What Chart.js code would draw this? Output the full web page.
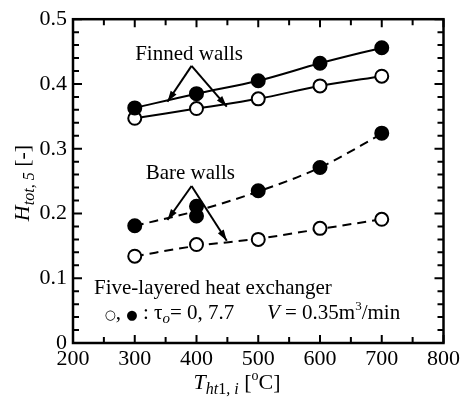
<!DOCTYPE html>
<html><head><meta charset="utf-8">
<script src="https://cdn.jsdelivr.net/npm/chart.js@4/dist/chart.umd.min.js"></script>
<style>html,body{margin:0;padding:0;background:#fff}#wrap{width:463px;height:402px}</style>
</head><body><div id="wrap"><canvas id="c" width="463" height="402"></canvas></div>
<script>
// ---- data ----
const temps = [300, 400, 500, 600, 700];
const finnedFilled = [0.363, 0.385, 0.405, 0.432, 0.456];
const finnedOpen = [0.347, 0.362, 0.377, 0.397, 0.412];
const bareFilledX = [300, 400, 400, 500, 600, 700];
const bareFilled = [0.181, 0.211, 0.196, 0.235, 0.271, 0.324];
const bareFilledFit = [0.181, 0.204, 0.234, 0.271, 0.323];
const bareOpen = [0.134, 0.152, 0.160, 0.177, 0.191];
const bareOpenFit = [0.134, 0.150, 0.161, 0.176, 0.191];
const xTickLabels = [200, 300, 400, 500, 600, 700, 800];
const yTickLabels = [0, 0.1, 0.2, 0.3, 0.4, 0.5];

// annotation anchors (data space)
const finnedArrow = {apex: [392, 0.428], tips: [[353, 0.3725], [449, 0.365]]};
const bareArrow = {apex: [392, 0.2425], tips: [[353, 0.190], [449, 0.158]]};

const SERIF = '"Liberation Serif", "Times New Roman", serif';
const pts = (xs, ys) => xs.map((x, i) => ({x, y: ys[i]}));

function font(style, size, fam) { return (style === 'i' ? 'italic ' : '') + size + 'px ' + (fam || SERIF); }
function runsWidth(ctx, runs) {
  let w = 0;
  for (const r of runs) { ctx.font = font(r.f, r.s, r.fam); w += ctx.measureText(r.t).width + (r.gap || 0); }
  return w;
}
function drawRuns(ctx, x, y, runs, align) {
  let cx = align === 'center' ? x - runsWidth(ctx, runs) / 2 : x;
  ctx.textBaseline = 'alphabetic'; ctx.textAlign = 'left'; ctx.fillStyle = '#000';
  for (const r of runs) {
    ctx.font = font(r.f, r.s, r.fam);
    ctx.fillText(r.t, cx, y + (r.dy || 0));
    cx += ctx.measureText(r.t).width + (r.gap || 0);
  }
}
function arrow(ctx, x0, y0, x1, y1) {
  ctx.beginPath(); ctx.moveTo(x0, y0); ctx.lineTo(x1, y1); ctx.stroke();
  const a = Math.atan2(y1 - y0, x1 - x0), L = 11, W = 3.5;
  ctx.beginPath();
  ctx.moveTo(x1, y1);
  ctx.lineTo(x1 - L * Math.cos(a) + W * Math.sin(a), y1 - L * Math.sin(a) - W * Math.cos(a));
  ctx.lineTo(x1 - L * Math.cos(a) - W * Math.sin(a), y1 - L * Math.sin(a) + W * Math.cos(a));
  ctx.closePath(); ctx.fill();
}

const decor = {
  id: 'decor',
  afterDatasetsDraw(chart) {
    const {ctx, chartArea: ca, scales: {x, y}} = chart;
    ctx.save();
    ctx.strokeStyle = '#000'; ctx.fillStyle = '#000';
    // frame
    ctx.lineWidth = 2.5;
    ctx.strokeRect(ca.left, ca.top, ca.right - ca.left, ca.bottom - ca.top);
    // inward ticks
    ctx.lineWidth = 2;
    ctx.beginPath();
    for (let v = 200; v <= 800; v += 50) {
      const px = x.getPixelForValue(v), L = (v % 100 === 0) ? 8 : 6;
      ctx.moveTo(px, ca.bottom); ctx.lineTo(px, ca.bottom - L);
      ctx.moveTo(px, ca.top); ctx.lineTo(px, ca.top + L);
    }
    for (let i = 0; i <= 25; i++) {
      const v = i * 0.02, py = y.getPixelForValue(v), L = (i % 5 === 0) ? 9 : 6;
      ctx.moveTo(ca.left, py); ctx.lineTo(ca.left + L, py);
      ctx.moveTo(ca.right, py); ctx.lineTo(ca.right - L, py);
    }
    ctx.stroke();
    // arrows
    ctx.lineWidth = 2;
    for (const A of [finnedArrow, bareArrow]) {
      const ax = x.getPixelForValue(A.apex[0]), ay = y.getPixelForValue(A.apex[1]);
      for (const t of A.tips) arrow(ctx, ax, ay, x.getPixelForValue(t[0]), y.getPixelForValue(t[1]));
    }
    // labels
    drawRuns(ctx, x.getPixelForValue(388), y.getPixelForValue(0.437), [{t: 'Finned walls', f: 'n', s: 21}], 'center');
    drawRuns(ctx, x.getPixelForValue(390), y.getPixelForValue(0.253), [{t: 'Bare walls', f: 'n', s: 21}], 'center');
    drawRuns(ctx, x.getPixelForValue(234), y.getPixelForValue(0.075), [{t: 'Five-layered heat exchanger', f: 'n', s: 21}], 'left');
    drawRuns(ctx, x.getPixelForValue(251), y.getPixelForValue(0.037), [
      {t: '○', f: 'n', s: 13, fam: '"DejaVu Sans"'},
      {t: ', ', f: 'n', s: 21},
      {t: '●', f: 'n', s: 13, fam: '"DejaVu Sans"'},
      {t: ' : ', f: 'n', s: 21},
      {t: 'τ', f: 'n', s: 21},
      {t: 'o', f: 'i', s: 15, dy: 4},
      {t: '= 0, 7.7', f: 'n', s: 21}
    ], 'left');
    drawRuns(ctx, x.getPixelForValue(514), y.getPixelForValue(0.037), [
      {t: 'V', f: 'i', s: 21},
      {t: ' = 0.35m', f: 'n', s: 21},
      {t: '3', f: 'n', s: 13, dy: -9},
      {t: '/min', f: 'n', s: 21}
    ], 'left');
    // axis titles
    drawRuns(ctx, 237, 389, [
      {t: 'T', f: 'i', s: 22},
      {t: 'ht', f: 'i', s: 16, dy: 5},
      {t: '1', f: 'n', s: 16, dy: 5},
      {t: ', i', f: 'i', s: 16, dy: 5},
      {t: ' [', f: 'n', s: 22},
      {t: 'o', f: 'n', s: 14, dy: -9},
      {t: 'C]', f: 'n', s: 22}
    ], 'center');
    ctx.translate(29, 183); ctx.rotate(-Math.PI / 2);
    drawRuns(ctx, 0, 0, [
      {t: 'H', f: 'i', s: 22},
      {t: 'tot', f: 'i', s: 16, dy: 5},
      {t: ', 5', f: 'i', s: 16, dy: 5},
      {t: ' [-]', f: 'n', s: 22}
    ], 'center');
    ctx.restore();
  }
};

const pointStyle = (fill) => ({
  showLine: false, pointRadius: 6.5, pointHoverRadius: 6.5, pointBorderWidth: 2,
  pointBackgroundColor: fill, pointBorderColor: '#000', order: 0
});
const lineStyle = (dash) => ({
  showLine: true, pointRadius: 0, borderColor: '#000', borderWidth: 2, borderDash: dash,
  cubicInterpolationMode: 'monotone', fill: false, order: 1
});

new Chart(document.getElementById('c'), {
  type: 'scatter',
  data: {
    datasets: [
      Object.assign({label: 'Finned τo=7.7 line', data: pts(temps, finnedFilled)}, lineStyle([])),
      Object.assign({label: 'Finned τo=0 line', data: pts(temps, finnedOpen)}, lineStyle([])),
      Object.assign({label: 'Bare τo=7.7 fit', data: pts(temps, bareFilledFit)}, lineStyle([9, 6])),
      Object.assign({label: 'Bare τo=0 fit', data: pts(temps, bareOpenFit)}, lineStyle([9, 6])),
      Object.assign({label: 'Finned τo=7.7', data: pts(temps, finnedFilled)}, pointStyle('#000')),
      Object.assign({label: 'Finned τo=0', data: pts(temps, finnedOpen)}, pointStyle('#fff')),
      Object.assign({label: 'Bare τo=7.7', data: pts(bareFilledX, bareFilled)}, pointStyle('#000')),
      Object.assign({label: 'Bare τo=0', data: pts(temps, bareOpen)}, pointStyle('#fff'))
    ]
  },
  options: {
    responsive: false, animation: false, devicePixelRatio: 1,
    layout: {padding: {left: 0, right: 18, top: 11, bottom: 0}},
    plugins: {legend: {display: false}, tooltip: {enabled: false}},
    scales: {
      x: {
        type: 'linear', min: 200, max: 800,
        grid: {display: false, drawTicks: false}, border: {display: false},
        ticks: {
          stepSize: 50, autoSkip: false, maxRotation: 0, padding: 3, color: '#000',
          font: {family: SERIF, size: 22},
          callback: (v) => xTickLabels.includes(v) ? String(v) : ''
        },
        afterFit: (s) => { s.height = 59; }
      },
      y: {
        type: 'linear', min: 0, max: 0.5,
        grid: {display: false, drawTicks: false}, border: {display: false},
        ticks: {
          stepSize: 0.02, autoSkip: false, padding: 6, color: '#000',
          font: {family: SERIF, size: 22},
          callback: (v) => {
            const m = yTickLabels.find(t => Math.abs(t - v) < 1e-6);
            return m === undefined ? '' : (m === 0 ? '0' : m.toFixed(1));
          }
        },
        afterFit: (s) => { s.width = 73; }
      }
    }
  },
  plugins: [decor]
});
</script>
</body></html>
